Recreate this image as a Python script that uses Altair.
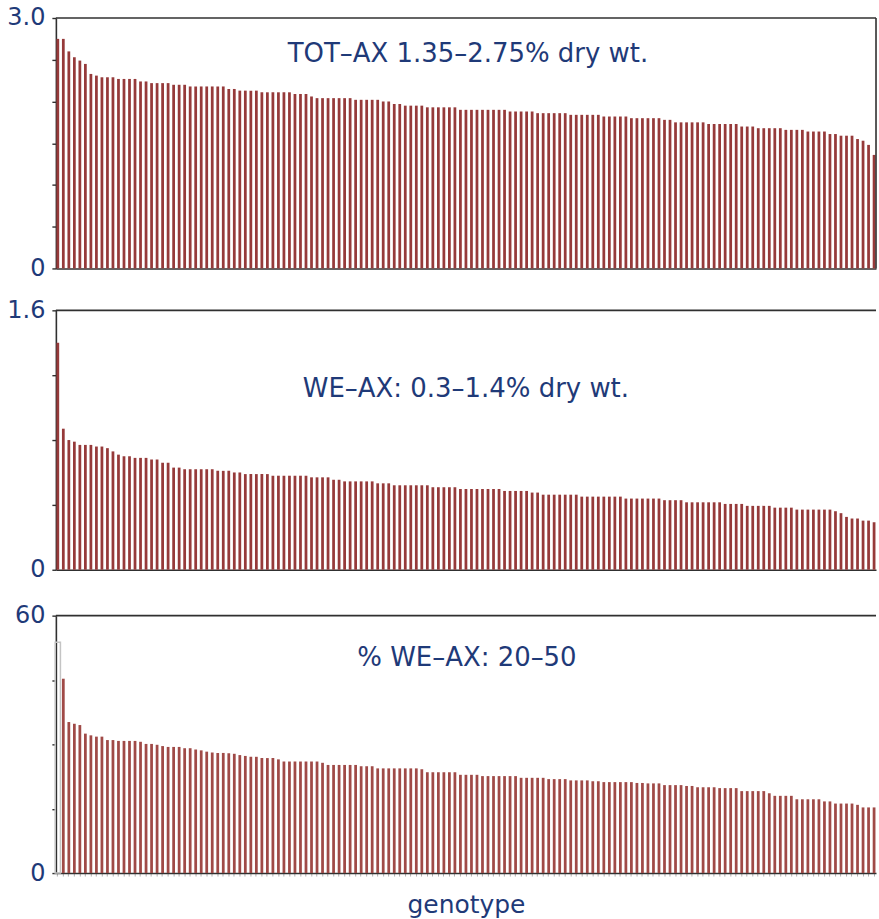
import altair as alt
import pandas as pd

# Total arabinoxylan (% dry weight), one bar per genotype, sorted high to low
tot_ax = [
    2.75, 2.75, 2.60, 2.53, 2.49, 2.45, 2.33, 2.31, 2.29, 2.29,
    2.29, 2.27, 2.27, 2.27, 2.27, 2.24, 2.24, 2.22, 2.22, 2.22,
    2.22, 2.20, 2.20, 2.20, 2.18, 2.18, 2.18, 2.18, 2.18, 2.18,
    2.18, 2.15, 2.15, 2.13, 2.13, 2.13, 2.13, 2.11, 2.11, 2.11,
    2.11, 2.11, 2.11, 2.09, 2.09, 2.09, 2.06, 2.04, 2.04, 2.04,
    2.04, 2.04, 2.04, 2.04, 2.02, 2.02, 2.02, 2.02, 2.02, 2.00,
    2.00, 1.97, 1.97, 1.95, 1.95, 1.95, 1.95, 1.93, 1.93, 1.93,
    1.93, 1.93, 1.93, 1.90, 1.90, 1.90, 1.90, 1.90, 1.90, 1.90,
    1.90, 1.90, 1.88, 1.88, 1.88, 1.88, 1.88, 1.86, 1.86, 1.86,
    1.86, 1.86, 1.86, 1.84, 1.84, 1.84, 1.84, 1.84, 1.84, 1.82,
    1.82, 1.82, 1.82, 1.82, 1.80, 1.80, 1.80, 1.80, 1.80, 1.80,
    1.78, 1.78, 1.75, 1.75, 1.75, 1.75, 1.75, 1.75, 1.73, 1.73,
    1.73, 1.73, 1.73, 1.73, 1.70, 1.70, 1.70, 1.68, 1.68, 1.68,
    1.68, 1.68, 1.66, 1.66, 1.66, 1.66, 1.64, 1.64, 1.64, 1.64,
    1.61, 1.61, 1.59, 1.59, 1.59, 1.55, 1.53, 1.48, 1.36,
]

# Water-extractable arabinoxylan (% dry weight)
we_ax = [
    1.40, 0.87, 0.80, 0.79, 0.77, 0.77, 0.77, 0.76, 0.76, 0.75,
    0.73, 0.71, 0.70, 0.70, 0.69, 0.69, 0.69, 0.68, 0.68, 0.66,
    0.66, 0.63, 0.63, 0.62, 0.62, 0.62, 0.62, 0.62, 0.62, 0.61,
    0.61, 0.61, 0.60, 0.60, 0.59, 0.59, 0.59, 0.59, 0.59, 0.58,
    0.58, 0.58, 0.58, 0.58, 0.58, 0.58, 0.57, 0.57, 0.57, 0.57,
    0.555, 0.555, 0.545, 0.545, 0.545, 0.545, 0.545, 0.545, 0.533, 0.533,
    0.533, 0.521, 0.521, 0.521, 0.521, 0.521, 0.521, 0.521, 0.509, 0.509,
    0.509, 0.509, 0.509, 0.498, 0.498, 0.498, 0.498, 0.498, 0.498, 0.498,
    0.498, 0.486, 0.486, 0.486, 0.486, 0.486, 0.476, 0.476, 0.463, 0.463,
    0.463, 0.463, 0.463, 0.463, 0.463, 0.451, 0.451, 0.451, 0.451, 0.451,
    0.451, 0.451, 0.451, 0.439, 0.439, 0.439, 0.439, 0.439, 0.439, 0.439,
    0.429, 0.429, 0.429, 0.429, 0.416, 0.416, 0.416, 0.416, 0.416, 0.416,
    0.416, 0.406, 0.406, 0.406, 0.406, 0.394, 0.394, 0.394, 0.394, 0.394,
    0.383, 0.383, 0.383, 0.383, 0.371, 0.371, 0.371, 0.371, 0.371, 0.371,
    0.371, 0.361, 0.349, 0.326, 0.316, 0.316, 0.303, 0.303, 0.293,
]

# WE-AX as a percentage of total AX
pct_we_ax = [
    45.3, 35.2, 34.8, 34.5, 32.5, 32.1, 31.8, 31.8, 31.0, 31.0,
    30.8, 30.8, 30.8, 30.8, 30.6, 30.1, 30.1, 29.9, 29.6, 29.4,
    29.4, 29.4, 29.1, 29.1, 28.8, 28.6, 28.3, 28.1, 28.0, 28.0,
    27.9, 27.8, 27.5, 27.3, 27.1, 27.1, 26.8, 26.8, 26.8, 26.5,
    26.0, 26.0, 26.0, 26.0, 26.0, 26.0, 26.0, 25.7, 25.2, 25.2,
    25.2, 25.2, 25.2, 25.2, 24.9, 24.9, 24.9, 24.4, 24.4, 24.4,
    24.4, 24.4, 24.4, 24.4, 24.4, 24.2, 23.5, 23.5, 23.5, 23.5,
    23.5, 23.5, 22.9, 22.9, 22.9, 22.9, 22.6, 22.6, 22.6, 22.6,
    22.6, 22.6, 22.6, 22.2, 22.2, 22.2, 22.2, 22.2, 21.9, 21.9,
    21.9, 21.9, 21.6, 21.6, 21.6, 21.6, 21.4, 21.4, 21.2, 21.2,
    21.2, 21.2, 21.2, 21.2, 21.0, 21.0, 20.9, 20.9, 20.9, 20.5,
    20.5, 20.5, 20.5, 20.3, 20.3, 20.0, 20.0, 20.0, 20.0, 19.8,
    19.8, 19.8, 19.8, 19.1, 19.1, 19.1, 19.1, 19.1, 18.6, 18.0,
    18.0, 18.0, 18.0, 17.2, 17.2, 17.2, 17.2, 17.2, 16.7, 16.7,
    16.2, 16.2, 16.2, 16.2, 15.9, 15.3, 15.3, 15.3,
]

# Outlined grey bar standing in the first slot of the bottom panel
pct_outline = [53.8]

captions = [
    "TOT\u2013AX 1.35\u20132.75% dry wt.",
    "WE\u2013AX: 0.3\u20131.4% dry wt.",
    "% WE\u2013AX: 20\u201350",
]

FONT = "DejaVu Sans"
NAVY = "#1f3a78"
DARK = "#303030"
W = 822


def y_axis(ticks, top_label):
    return alt.Axis(
        values=ticks,
        labelExpr=f"datum.value == 0 ? '0' : (datum.value == {ticks[-1]} ? '{top_label}' : '')",
        grid=False,
        title=None,
        domainColor=DARK,
        domainWidth=1.6,
        tickColor=DARK,
        tickWidth=1.4,
        tickSize=4,
        labelPadding=7,
        labelFont=FONT,
        labelFontSize=24,
        labelColor=NAVY,
        labelFlush=False,
    )


def panel(values, height, ymax, ticks, top_label, caption, cap_xy, color,
          right_border=False, x_axis=None, offset=0, extra=None):
    n = len(values) + offset
    df = pd.DataFrame({"genotype": list(range(offset, n)), "value": values})
    xscale = alt.Scale(domain=list(range(n)), paddingInner=0.5, paddingOuter=0.1)
    if x_axis is None:
        x_axis = alt.Axis(labels=False, ticks=False, title=None,
                          domainColor=DARK, domainWidth=1.6)
    bars = alt.Chart(df).mark_bar(color=color).encode(
        x=alt.X("genotype:O", scale=xscale, axis=x_axis),
        y=alt.Y("value:Q", scale=alt.Scale(domain=[0, ymax], nice=False),
                axis=y_axis(ticks, top_label)),
    )
    top = alt.Chart(pd.DataFrame({"v": [ymax]})).mark_rule(
        color=DARK, strokeWidth=1.6).encode(y="v:Q")
    text = alt.Chart(pd.DataFrame({"t": [caption]})).mark_text(
        font=FONT, fontSize=26, color=NAVY, align="center", baseline="middle"
    ).encode(text="t:N", x=alt.value(cap_xy[0]), y=alt.value(cap_xy[1]))
    layers = []
    if extra is not None:
        layers.append(extra)
    layers += [bars, top, text]
    if right_border:
        layers.append(
            alt.Chart(pd.DataFrame({"v": [0]})).mark_rule(
                color=DARK, strokeWidth=1.6
            ).encode(x=alt.value(W), y=alt.value(0), y2=alt.value(height))
        )
    return alt.layer(*layers).properties(width=W, height=height)


p1 = panel(tot_ax, 251, 3.0, [0, 0.5, 1.0, 1.5, 2.0, 2.5, 3.0], "3.0",
           captions[0], (413, 36), "#963a3a", right_border=True)

p2 = panel(we_ax, 260, 1.6, [0, 0.2, 0.4, 0.6, 0.8, 1.0, 1.2, 1.4, 1.6], "1.6",
           captions[1], (411, 79), "#963a3a")

outline = alt.Chart(
    pd.DataFrame({"genotype": [0], "value": pct_outline})
).mark_bar(fillOpacity=0, stroke="#c4c4c4", strokeWidth=1.5,
           width={"band": 1.9}).encode(
    x=alt.X("genotype:O"),
    y=alt.Y("value:Q"),
)

x3 = alt.Axis(labels=False, ticks=True, tickColor="#b0b0b0", tickSize=3,
              domainColor=DARK, domainWidth=1.6,
              title="genotype", titleFont=FONT, titleFontSize=25,
              titleFontWeight="normal", titleColor=NAVY, titlePadding=16)

p3 = panel(pct_we_ax, 258, 60, [0, 7.5, 15, 22.5, 30, 37.5, 45, 52.5, 60], "60",
           captions[2], (412, 42), "#a04a47", x_axis=x3, offset=1, extra=outline)

chart = alt.vconcat(
    alt.vconcat(p1, p2, spacing=16),
    p3,
    spacing=20,
).properties(
    padding={"left": 6, "top": 4, "right": 1, "bottom": 0}
).configure_view(stroke="transparent")

chart.save("out.html", embed_options={"renderer": "svg", "actions": False})
